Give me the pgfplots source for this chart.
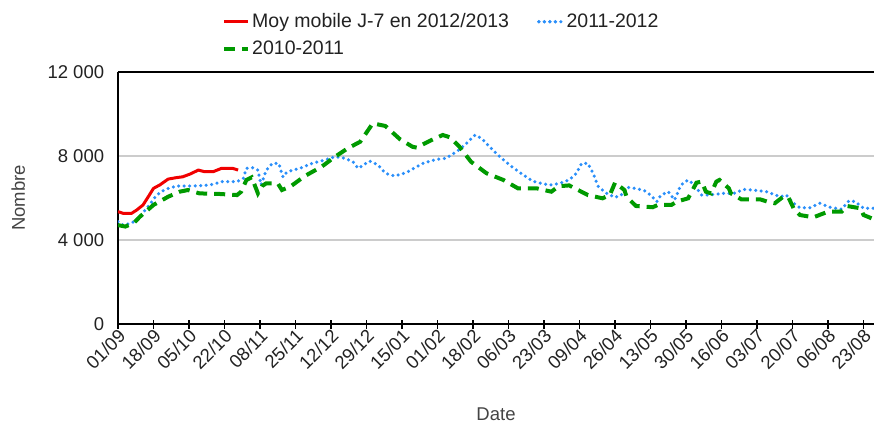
\documentclass[border=0pt]{standalone}
\usepackage{fontspec}
\setmainfont{Liberation Sans}
\usepackage{pgfplots}
\pgfplotsset{compat=1.18}
\definecolor{moyred}{HTML}{F00000}
\definecolor{bleu}{HTML}{2A8FFA}
\definecolor{vert}{HTML}{009A00}
\definecolor{txt}{HTML}{222222}
\definecolor{lab}{HTML}{444444}
\definecolor{grille}{HTML}{CCCCCC}

\begin{document}
\fontsize{18.5}{21}\selectfont
\begin{tikzpicture}
\useasboundingbox (-118pt,-101pt) rectangle (756pt,324pt);
\begin{axis}[
    scale only axis,
    width=756pt, height=252pt,
    xmin=0, xmax=362, ymin=0, ymax=12000,
    scaled y ticks=false,
    axis x line=box, axis y line=left,
    axis line style={-, black, line width=1.6pt},
    xtick pos=left,
    xtick={0,17,...,357},
    xticklabels={01/09,18/09,05/10,22/10,08/11,25/11,12/12,29/12,15/01,01/02,18/02,06/03,23/03,09/04,26/04,13/05,30/05,16/06,03/07,20/07,06/08,23/08},
    xticklabel style={rotate=45, anchor=east, text=txt, xshift=6pt, yshift=-6pt},
    xtick align=center,
    major tick length=9pt,
    xtick style={black, line width=1.3pt},
    ytick={0,4000,8000,12000},
    yticklabels={0,{4 000},{8 000},{12 000}},
    yticklabel style={text=txt, xshift=-3pt},
    ytick style={draw=none},
    ymajorgrids,
    major grid style={grille, line width=1.5pt},
    xlabel={Date}, ylabel={Nombre},
    xlabel style={at={(axis description cs:0.5,-0.36)}, anchor=center, text=lab},
    ylabel style={at={(axis description cs:-0.132,0.5)}, anchor=center, rotate=0, text=lab},
    legend columns=2,
    legend cell align=left,
    legend image code/.code={\draw[#1] (0pt,0pt) -- (20pt,0pt); \path (0pt,0pt) -- (24pt,0pt);},
    legend style={at={(axis description cs:0.1376,1.242)}, anchor=north west,
        draw=none, fill=none, text=txt, inner sep=0pt, row sep=7pt,
        font=\fontsize{19.5}{22}\selectfont,
        /tikz/every even column/.append style={column sep=26pt}},
]
\addplot[moyred, line width=3pt, line join=round] coordinates {
(0,5350)(2.5,5270)(6.5,5270)(9,5430)(12,5670)(14.5,6060)(17,6460)(20,6620)
(24,6900)(28,6970)(31,7010)(34.5,7140)(38.5,7330)(41.5,7250)(45.5,7250)
(49.5,7410)(55,7410)(57.5,7330)
};
\addlegendentry{Moy mobile J-7 en 2012/2013}
\addplot[bleu, line width=3.5pt, line cap=round, dash pattern=on 0pt off 5.5pt] coordinates {
(0,4870)(2.5,4710)(6.5,4800)(10.5,5110)(15,5670)(18.5,6140)(22.5,6410)(28,6570)
(36,6570)(44,6620)(50,6780)(57,6780)(60,6940)(61.5,7410)(64.5,7440)(67,7330)
(68.5,6620)(71,7330)(74,7650)(77,7650)(79,7000)(81,7250)(87,7410)(93,7650)
(100,7840)(104,7970)(108.5,7890)(112.5,7730)(115,7410)(120.5,7760)(124.5,7570)
(128,7175)(132.5,7050)(138,7205)(143,7490)(146,7650)(152.5,7840)(157,7890)
(162,8200)(166,8520)(171,9000)(174,8840)(178,8440)(181,8130)(187.5,7570)
(194,7100)(198.5,6810)(203.5,6670)(207.5,6620)(211.5,6700)(216,6860)(219.5,7175)
(222,7650)(225,7650)(227.5,7175)(230,6540)(234,6220)(238,6030)(241,6140)
(243.5,6510)(247.5,6460)(252,6350)(255,6140)(258,5825)(260,6140)(263.5,6300)
(266.5,5905)(269.5,6620)(273,6860)(276,6620)(279.5,6140)(282.5,6140)(290,6220)
(295,6220)(299.5,6410)(304,6380)(310.5,6300)(317,6060)(320,6140)(323.5,5750)
(326.5,5540)(331.5,5540)(336,5750)(341,5560)(346.5,5460)(350,5870)(353,5825)
(357,5510)(362,5510)
};
\addlegendentry{2011-2012}
\addplot[vert, line width=4pt, dash pattern=on 11pt off 7pt] coordinates {
(0,4710)(3.5,4640)(7.5,4800)(10.5,5110)(17,5670)(24,6060)(29.5,6300)(33.5,6380)
(39,6220)(49,6190)(57,6140)(59,6300)(61.5,6860)(64,6985)(67,6220)(69,6570)
(71,6700)(76.5,6700)(78.5,6380)(82.5,6540)(89.5,7050)(97.5,7490)(104,7970)
(110,8365)(116,8680)(122,9555)(128,9430)(135,8800)(141,8440)(143,8400)
(149.5,8730)(155.5,9000)(159,8890)(163.5,8440)(169,7730)(176.5,7175)(184.5,6860)
(191.5,6460)(200.5,6460)(207.5,6300)(211,6560)(216,6600)(225,6140)(232,5985)
(235.5,6140)(238,6730)(242.5,6380)(243.5,6060)(248,5620)(256,5560)(258.5,5670)
(265,5670)(267.5,5825)(273,5985)(277,6730)(279.5,6780)(281.5,6300)(284,6220)
(286.5,6780)(288,6860)(292.5,6460)(293.5,6220)(298.5,5935)(307.5,5935)(311,5825)
(314.5,5750)(318.5,6060)(321,6030)(323.5,5510)(326.5,5190)(333,5080)(340,5350)
(346.5,5350)(349,5620)(355.5,5510)(357,5190)(362,4985)
};
\addlegendentry{2010-2011}
\end{axis}
\end{tikzpicture}
\end{document}
